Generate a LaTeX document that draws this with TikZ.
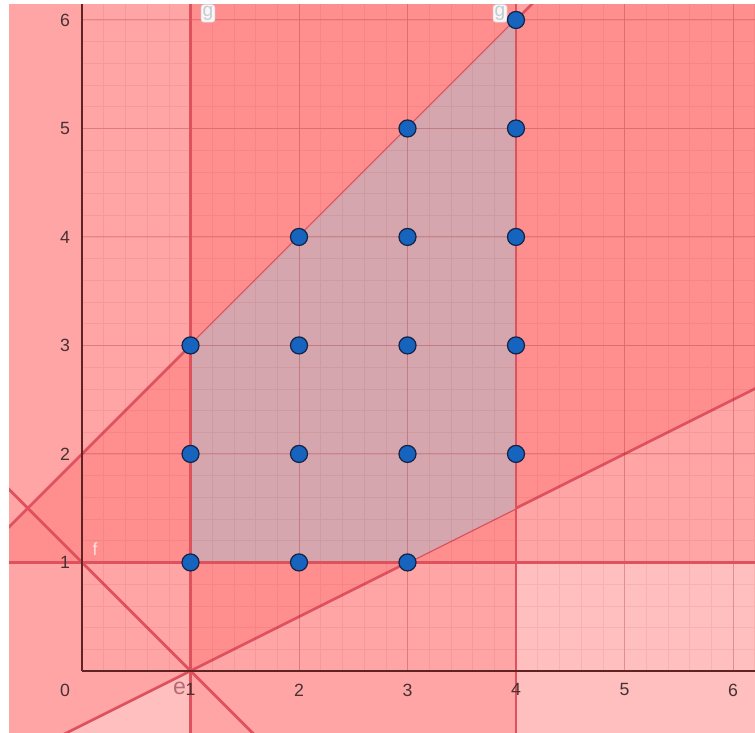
\documentclass[tikz,border=0pt]{standalone}
\usepackage{fontspec}
\setmainfont{Liberation Sans}
\definecolor{lnred}{RGB}{222,82,94}
\definecolor{axcol}{RGB}{95,35,35}
\definecolor{tkcol}{RGB}{70,50,50}
\definecolor{ptblue}{RGB}{22,100,190}
\definecolor{ptline}{RGB}{20,35,70}
\definecolor{feas}{RGB}{213,166,173}
\definecolor{gridred}{RGB}{150,20,20}
\definecolor{lblpale}{RGB}{255,222,222}
\definecolor{lblrose}{RGB}{180,105,115}
\definecolor{ghalo}{RGB}{205,225,235}
\begin{document}
\begin{tikzpicture}[x=2.8cm,y=2.8cm,
  region/.style={fill=red,fill opacity=0.135},
  bound/.style={draw=lnred,line width=2pt},
  minorgrid/.style={draw=gridred,opacity=0.08,line width=0.4pt},
  majorgrid/.style={draw=gridred,opacity=0.22,line width=0.7pt},
  axisline/.style={draw=axcol,line width=1.1pt},
  ticklbl/.style={font=\fontsize{13}{15}\selectfont,text=tkcol,inner sep=0pt},
  lattice/.style={circle,fill=ptblue,draw=ptline,line width=0.9pt,minimum size=0.44cm,inner sep=0pt},
  linelbl/.style={inner sep=0pt},
  glbl/.style={fill=white,fill opacity=0.9,text opacity=1,draw=ghalo,rounded corners=2pt,text=ghalo!80!gray,inner sep=1.2pt,font=\fontsize{14}{16}\selectfont}]
\fill[white] (-0.756,-0.571) rectangle (6.203,6.184);
\useasboundingbox (-0.756,-0.571) rectangle (6.203,6.184);
\begin{scope}
\clip (-0.673,-0.571) rectangle (6.203,6.138);
% half-planes
\fill[region] (1,-1) rectangle (7,7);
\fill[region] (-1,-1) rectangle (4,7);
\fill[region] (-1,1) rectangle (7,7);
\fill[region] (-1,1) -- (7,9) -- (7,-1) -- (-1,-1) -- cycle;
\fill[region] (-1,-1) -- (7,3) -- (7,7) -- (-1,7) -- cycle;
% slanted boundary lines
\draw[bound] (-1,1) -- (7,9);
\draw[bound] (-1,-1) -- (7,3);
\draw[bound] (-1,2) -- (3,-2);
% feasible region
\fill[feas] (1,1) -- (3,1) -- (4,1.5) -- (4,6) -- (1,3) -- cycle;
% grid
\draw[minorgrid,step=0.2] (0,0) grid (6.3,6.3);
\draw[majorgrid,step=1] (0,0) grid (6.3,6.3);
% vertical / horizontal boundary lines
\draw[bound] (1,-1) -- (1,7);
\draw[bound] (4,-1) -- (4,7);
\draw[bound] (-1,1) -- (7,1);
% axes
\draw[axisline] (0,0) -- (6.3,0);
\draw[axisline] (0,0) -- (0,6.3);
% tick labels
\node[ticklbl] (x0) at (-0.157,-0.175) {0};
\foreach \k in {1,...,6} {
  \node[ticklbl] (x\k) at (\k,-0.175) {\k};
  \node[ticklbl] (y\k) at (-0.157,\k) {\k};
}
% line labels
\node[linelbl,text=lblrose,font=\fontsize{17}{19}\selectfont] (le) at (0.9,-0.165) {e};
\node[linelbl,text=lblpale,font=\fontsize{13}{15}\selectfont] (lf) at (0.12,1.12) {f};
\node[glbl] (lg1) at (1.161,6.06) {g};
\node[glbl] (lg2) at (3.853,6.06) {g};
% lattice points
\foreach \px/\py in {1/1,2/1,3/1,1/2,2/2,3/2,4/2,1/3,2/3,3/3,4/3,2/4,3/4,4/4,3/5,4/5,4/6} {
  \node[lattice] (p\px\py) at (\px,\py) {};
}
\end{scope}
\end{tikzpicture}
\end{document}
